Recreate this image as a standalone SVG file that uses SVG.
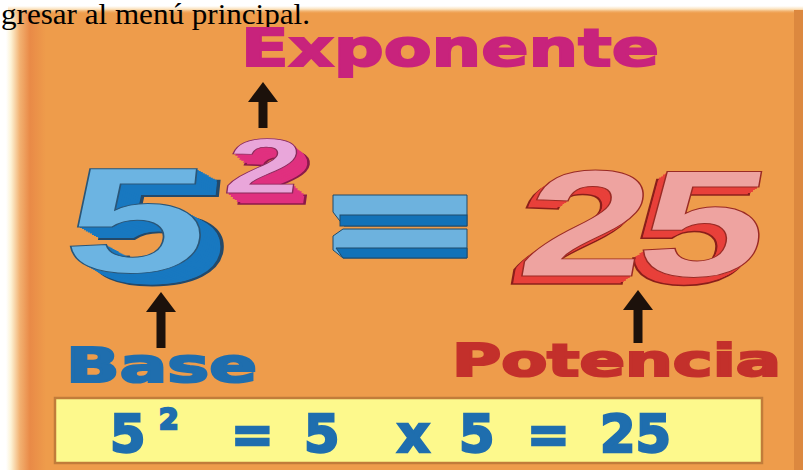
<svg xmlns="http://www.w3.org/2000/svg" xmlns:xlink="http://www.w3.org/1999/xlink" width="803" height="470" viewBox="0 0 803 470">
  <style>
    .lbl { font-family: "DejaVu Sans", "Liberation Sans", sans-serif; font-weight: bold; }
    .big { font-family: "Liberation Sans", Arial, sans-serif; font-weight: bold; }
    .menu { font-family: "Liberation Serif", "Times New Roman", serif; font-size: 30px; fill: #000; }
    .arrow { stroke: #1c110b; stroke-width: 9; fill: none; marker-end: url(#head); }
  </style>
  <defs>
    <linearGradient id="leftEdge" x1="0" y1="0" x2="1" y2="0">
      <stop offset="0" stop-color="#ffffff"/>
      <stop offset="0.12" stop-color="#fdf3d6"/>
      <stop offset="0.35" stop-color="#f2b070"/>
      <stop offset="0.6" stop-color="#e98a47"/>
      <stop offset="1" stop-color="#ee9c4b"/>
    </linearGradient>
    <linearGradient id="topEdge" x1="0" y1="0" x2="0" y2="1">
      <stop offset="0" stop-color="#ffffff"/>
      <stop offset="0.4" stop-color="#fbe2bd"/>
      <stop offset="1" stop-color="#ee9c4b" stop-opacity="0"/>
    </linearGradient>
    <marker id="head" viewBox="0 0 20 30" markerWidth="20" markerHeight="30" refX="1" refY="15" orient="auto" markerUnits="userSpaceOnUse">
      <path d="M0,0 L20,15 L0,30 z" fill="#1c110b"/>
    </marker>
  </defs>

  <!-- background -->
  <rect x="0" y="0" width="803" height="470" fill="#ffffff"/>
  <rect x="8" y="8" width="795" height="462" fill="#ee9c4b"/>
  <rect x="6" y="8" width="40" height="462" fill="url(#leftEdge)"/>
  <rect x="8" y="6" width="795" height="8" fill="url(#topEdge)"/>
  <rect x="794" y="10" width="9" height="460" fill="#dc883f"/>

  <g id="menu-text">
    <text class="menu" x="1" y="24" textLength="309" lengthAdjust="spacingAndGlyphs">gresar al menú principal.</text>
  </g>

  <g id="exponente">
    <text class="lbl" x="241" y="66" font-size="52" fill="#c8237c" stroke="#c8237c" stroke-width="2" textLength="418" lengthAdjust="spacingAndGlyphs">Exponente</text>
  </g>

  <!-- base number 5 (3D) -->
  <g id="base-five">
    <g fill="#1878c0">
      <use xlink:href="#t5" x="22" y="12" stroke="#23496a" stroke-width="2"/>
      <use xlink:href="#t5" x="20" y="11"/>
      <use xlink:href="#t5" x="18" y="10"/>
      <use xlink:href="#t5" x="16" y="9"/>
      <use xlink:href="#t5" x="14" y="8"/>
      <use xlink:href="#t5" x="12" y="6.5"/>
      <use xlink:href="#t5" x="10" y="5.5"/>
      <use xlink:href="#t5" x="8" y="4.5"/>
      <use xlink:href="#t5" x="6" y="3.3"/>
      <use xlink:href="#t5" x="4" y="2.2"/>
      <use xlink:href="#t5" x="2" y="1.1"/>
    </g>
    <g fill="#6cb4e2" stroke="#2a5678" stroke-width="1">
      <text id="t5" class="big" font-size="150" transform="translate(60,272) skewX(-6) scale(1.72,1)">5</text>
    </g>
  </g>

  <!-- exponent 2 (3D) -->
  <g id="exponent-two">
    <g fill="#e0307f">
      <use xlink:href="#t2" x="12" y="11" stroke="#8a1a4a" stroke-width="1.5"/>
      <use xlink:href="#t2" x="10" y="9"/>
      <use xlink:href="#t2" x="8" y="7.3"/>
      <use xlink:href="#t2" x="6" y="5.5"/>
      <use xlink:href="#t2" x="4" y="3.7"/>
      <use xlink:href="#t2" x="2" y="1.8"/>
    </g>
    <g fill="#e9a6da" stroke="#8a2a5a" stroke-width="0.8">
      <text id="t2" class="big" font-size="78" transform="translate(222,193) skewX(-8) scale(1.75,1)">2</text>
    </g>
  </g>

  <!-- equals sign -->
  <g id="equals" stroke="#1e4a6a" stroke-width="1">
    <polygon points="333,195 467,195 467,226 344,226 336,216 333,212" fill="#6db2de"/>
    <rect x="340" y="215" width="127" height="11" fill="#1272b8"/>
    <polygon points="343,229 467,229 467,258 343,258 333,250 333,236" fill="#6db2de"/>
    <polygon points="336,248 467,248 467,258 343,258" fill="#1272b8"/>
  </g>

  <!-- result 25 (3D) -->
  <g id="result">
    <g fill="#e8403a">
      <use xlink:href="#t25" x="-10" y="8" stroke="#8a1e1a" stroke-width="1.5"/>
      <use xlink:href="#t25" x="-8" y="6.4"/>
      <use xlink:href="#t25" x="-6" y="4.8"/>
      <use xlink:href="#t25" x="-4" y="3.2"/>
      <use xlink:href="#t25" x="-2" y="1.6"/>
    </g>
    <g fill="#eea3a0" stroke="#9a2a24" stroke-width="1">
      <text id="t25" class="big" font-size="152" letter-spacing="-6" transform="translate(514,276) skewX(-10) scale(1.5,1)">25</text>
    </g>
  </g>

  <g id="base-label">
    <text class="lbl" x="66" y="382" font-size="48" fill="#1f6eae" stroke="#1f6eae" stroke-width="2.2" textLength="191" lengthAdjust="spacingAndGlyphs">Base</text>
  </g>

  <g id="potencia-label">
    <text class="lbl" x="452" y="376" font-size="45" fill="#c3302b" stroke="#c3302b" stroke-width="2.2" textLength="329" lengthAdjust="spacingAndGlyphs">Potencia</text>
  </g>

  <g id="formula">
    <rect x="55" y="398" width="707" height="65" fill="#fdf98c" stroke="#c17c3a" stroke-width="2.5"/>
    <text class="lbl" font-size="51" fill="#1f6eae" stroke="#1f6eae" stroke-width="2.5" y="452"><tspan x="110">5</tspan><tspan x="159" y="429" font-size="28">2</tspan><tspan x="231" y="452">=</tspan><tspan x="304">5</tspan><tspan x="397">x</tspan><tspan x="459">5</tspan><tspan x="527">=</tspan><tspan x="600">25</tspan></text>
  </g>

  <g id="connectors">
    <line class="arrow" x1="263" y1="128" x2="263" y2="101"/>
    <line class="arrow" x1="161" y1="348" x2="161" y2="311"/>
    <line class="arrow" x1="638" y1="343" x2="638" y2="309"/>
  </g>
</svg>
